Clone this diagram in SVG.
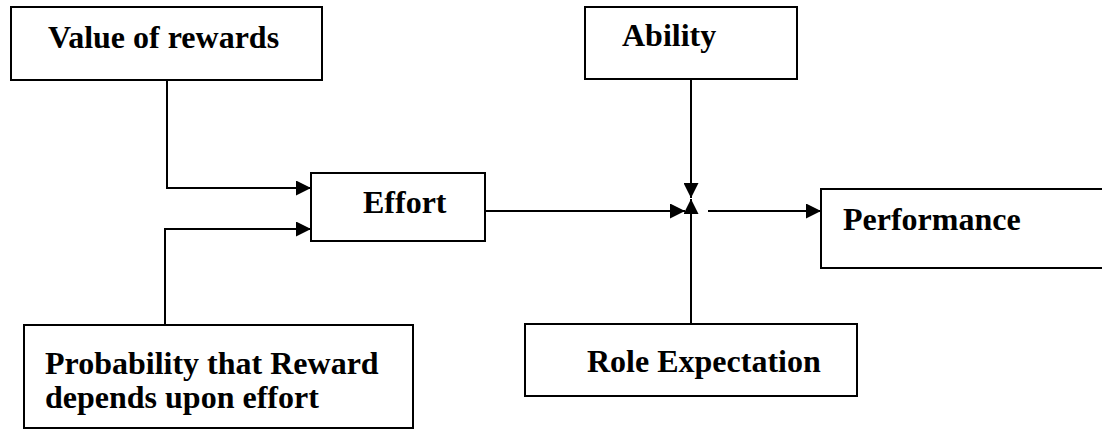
<svg xmlns="http://www.w3.org/2000/svg" width="1102" height="429" viewBox="0 0 1102 429">
<style>
.box{fill:#fff;stroke:#000;stroke-width:2}
.lbl{font-family:"Liberation Serif","Times New Roman",serif;font-weight:bold;font-size:32px;fill:#000}
.con{fill:none;stroke:#000;stroke-width:2}
</style>
<defs>
<marker id="arr" markerUnits="userSpaceOnUse" markerWidth="15" markerHeight="15" refX="15" refY="7.5" orient="auto">
<path d="M0,0 L15,7.5 L0,15 z" fill="#000"/>
</marker>
</defs>
<rect width="1102" height="429" fill="#fff"/>
<g id="value">
<rect class="box" x="11" y="7" width="311" height="73"/>
<text class="lbl" x="48" y="48">Value of rewards</text>
</g>
<g id="ability">
<rect class="box" x="585" y="7" width="212" height="72"/>
<text class="lbl" x="622" y="46">Ability</text>
</g>
<g id="effort">
<rect class="box" x="311" y="173" width="174" height="68"/>
<text class="lbl" x="363" y="213">Effort</text>
</g>
<g id="performance">
<rect class="box" x="821" y="189" width="290" height="79"/>
<text class="lbl" x="843" y="230">Performance</text>
</g>
<g id="probability">
<rect class="box" x="24" y="325" width="389" height="103"/>
<text class="lbl" x="45" y="374">Probability that Reward</text>
<text class="lbl" x="45" y="408">depends upon effort</text>
</g>
<g id="role">
<rect class="box" x="525" y="324" width="332" height="72"/>
<text class="lbl" x="587" y="372">Role Expectation</text>
</g>
<g id="connectors">
<polyline class="con" points="167,80 167,188 311,188" marker-end="url(#arr)"/>
<polyline class="con" points="165,325 165,229 311,229" marker-end="url(#arr)"/>
<line class="con" x1="485" y1="211" x2="685" y2="211" marker-end="url(#arr)"/>
<line class="con" x1="691" y1="79" x2="691" y2="198" marker-end="url(#arr)"/>
<line class="con" x1="691" y1="324" x2="691" y2="199" marker-end="url(#arr)"/>
<line class="con" x1="708" y1="211" x2="821" y2="211" marker-end="url(#arr)"/>
</g>
</svg>
